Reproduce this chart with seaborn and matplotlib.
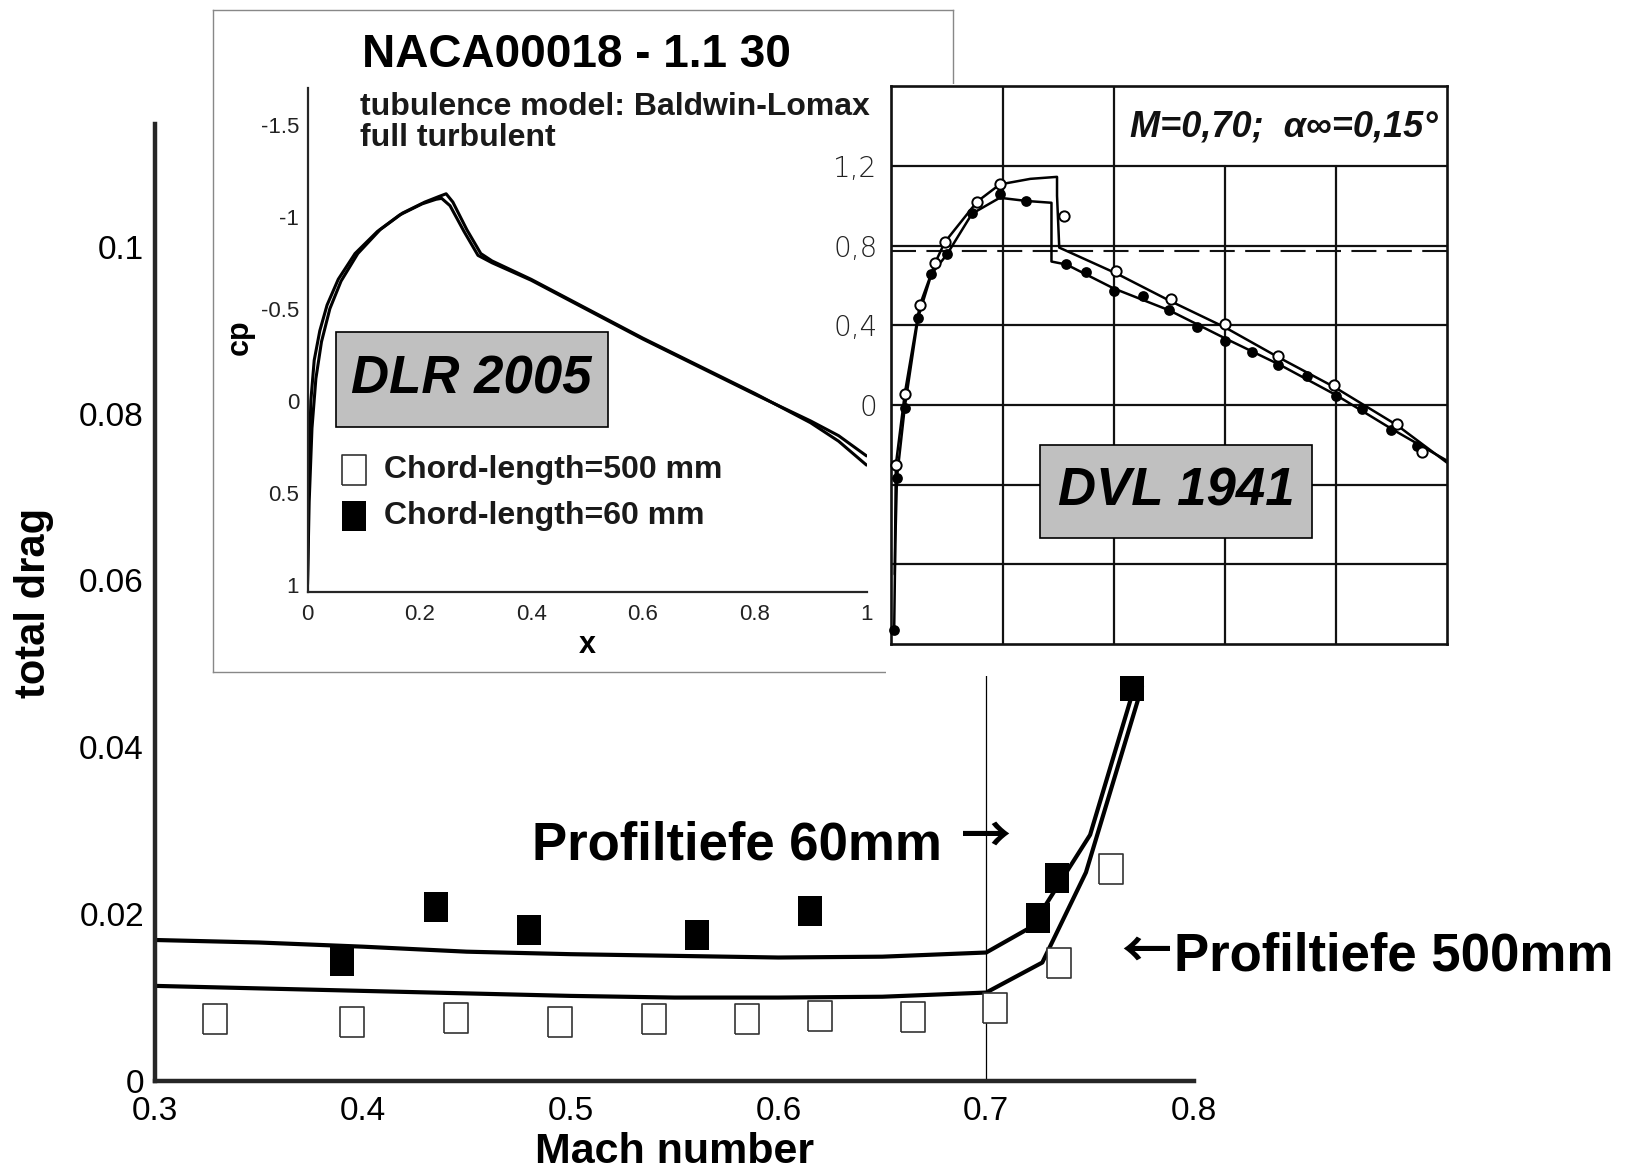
import matplotlib
matplotlib.use("Agg")
import matplotlib.pyplot as plt
import seaborn as sns
from matplotlib import font_manager
from matplotlib.patches import Rectangle
from matplotlib.ticker import MultipleLocator

# ---- main chart: total drag vs Mach number ----
mach_60_exp = [0.390, 0.435, 0.480, 0.561, 0.615, 0.725, 0.734, 0.770]
drag_60_exp = [0.0144, 0.0208, 0.0181, 0.0175, 0.0204, 0.0195, 0.0243, 0.0473]
mach_500_exp = [0.329, 0.395, 0.445, 0.495, 0.540, 0.585, 0.620, 0.665, 0.704, 0.735, 0.760]
drag_500_exp = [0.0074, 0.0071, 0.0076, 0.0071, 0.0074, 0.0074, 0.0078, 0.0077, 0.0088, 0.0142, 0.0254]

mach_60_cfd = [0.30, 0.35, 0.40, 0.45, 0.50, 0.55, 0.60, 0.65, 0.70, 0.722, 0.750, 0.772]
drag_60_cfd = [0.0169, 0.0166, 0.0161, 0.0155, 0.0152, 0.0150, 0.0148, 0.0149, 0.0154, 0.0185, 0.0295, 0.0478]
mach_500_cfd = [0.30, 0.35, 0.40, 0.45, 0.50, 0.55, 0.60, 0.65, 0.70, 0.727, 0.748, 0.775]
drag_500_cfd = [0.0114, 0.0111, 0.0108, 0.0105, 0.0102, 0.0100, 0.0100, 0.0101, 0.0106, 0.0142, 0.0250, 0.0473]

REF_MACH = 0.7
mach_ticks = [0.3, 0.4, 0.5, 0.6, 0.7, 0.8]
mach_labels = ["0.3", "0.4", "0.5", "0.6", "0.7", "0.8"]
drag_ticks = [0, 0.02, 0.04, 0.06, 0.08, 0.1]
drag_labels = ["0", "0.02", "0.04", "0.06", "0.08", "0.1"]

# ---- DLR 2005 inset: cp over x ----
x_500 = [0.0, 0.003, 0.008, 0.015, 0.025, 0.04, 0.06, 0.09, 0.13, 0.17, 0.21, 0.235, 0.248,
         0.26, 0.285, 0.31, 0.33, 0.40, 0.50, 0.60, 0.70, 0.80, 0.90, 0.95, 1.0]
cp_500 = [1.0, 0.55, 0.15, -0.12, -0.32, -0.50, -0.65, -0.80, -0.93, -1.02, -1.08, -1.11, -1.125,
          -1.08, -0.93, -0.80, -0.76, -0.66, -0.50, -0.34, -0.19, -0.04, 0.12, 0.22, 0.35]
x_60 = [0.0, 0.002, 0.006, 0.012, 0.022, 0.035, 0.055, 0.085, 0.125, 0.165, 0.205, 0.23, 0.24,
        0.255, 0.28, 0.305, 0.33, 0.40, 0.50, 0.60, 0.70, 0.80, 0.90, 0.95, 1.0]
cp_60 = [1.0, 0.45, 0.0, -0.22, -0.38, -0.52, -0.66, -0.80, -0.92, -1.01, -1.07, -1.095, -1.10,
         -1.06, -0.92, -0.79, -0.75, -0.655, -0.495, -0.335, -0.185, -0.035, 0.11, 0.19, 0.30]
naca_x_ticks = [0, 0.2, 0.4, 0.6, 0.8, 1]
naca_x_labels = ["0", "0.2", "0.4", "0.6", "0.8", "1"]
naca_cp_ticks = [-1.5, -1, -0.5, 0, 0.5, 1]
naca_cp_labels = ["-1.5", "-1", "-0.5", "0", "0.5", "1"]

# ---- DVL 1941 inset: -cp over x (scan) ----
dvl_open_x = [0.008, 0.024, 0.051, 0.079, 0.096, 0.154, 0.195, 0.310, 0.405, 0.503, 0.600, 0.696, 0.797, 0.909, 0.955]
dvl_open_v = [-0.30, 0.056, 0.50, 0.715, 0.817, 1.02, 1.107, 0.95, 0.672, 0.533, 0.407, 0.246, 0.10, -0.093, -0.235]
dvl_fill_x = [0.005, 0.010, 0.024, 0.048, 0.072, 0.100, 0.145, 0.195, 0.243, 0.315, 0.350, 0.400,
              0.453, 0.500, 0.549, 0.600, 0.648, 0.696, 0.748, 0.800, 0.847, 0.898, 0.946]
dvl_fill_v = [-1.13, -0.365, -0.013, 0.437, 0.657, 0.756, 0.965, 1.06, 1.024, 0.709, 0.667, 0.574,
              0.548, 0.478, 0.389, 0.32, 0.265, 0.20, 0.144, 0.043, -0.022, -0.124, -0.204]
dvl_up_x = [0.006, 0.008, 0.024, 0.051, 0.079, 0.096, 0.154, 0.195, 0.250, 0.298, 0.298, 0.302,
            0.405, 0.503, 0.600, 0.696, 0.797, 0.909, 1.000]
dvl_up_v = [-0.85, -0.30, 0.056, 0.50, 0.715, 0.817, 1.02, 1.107, 1.135, 1.145, 1.05, 0.79,
            0.66, 0.52, 0.39, 0.24, 0.09, -0.10, -0.29]
dvl_lo_x = [0.005, 0.007, 0.010, 0.024, 0.048, 0.072, 0.100, 0.145, 0.195, 0.243, 0.288, 0.288,
            0.315, 0.400, 0.500, 0.600, 0.700, 0.800, 0.900, 1.000]
dvl_lo_v = [-1.13, -0.70, -0.365, -0.013, 0.437, 0.657, 0.756, 0.96, 1.04, 1.024, 1.015, 0.72,
            0.705, 0.585, 0.475, 0.335, 0.20, 0.05, -0.12, -0.28]
dvl_ticks = [1.2, 0.8, 0.4, 0]
dvl_labels = ["1,2", "0,8", "0,4", "0"]
dvl_grid_y = [-0.8, -0.4, 0, 0.4, 0.8, 1.2]
dvl_grid_x_full = [0.2, 0.4]
dvl_grid_x_short = [0.6, 0.8]
dvl_sonic = 0.772

sns.set_style("white")
plt.rcParams["font.family"] = ["Liberation Sans", "DejaVu Sans"]
for key in ("text.color", "axes.labelcolor", "xtick.color", "ytick.color"):
    plt.rcParams[key] = "black"
names = {f.name for f in font_manager.fontManager.ttflist}
narrow = "Liberation Sans Narrow" if "Liberation Sans Narrow" in names else "Liberation Sans"
arrow_font = ["Noto Sans CJK JP", "DejaVu Sans"]

W, H = 1629, 1170
fig = plt.figure(figsize=(W / 100, H / 100), dpi=100, facecolor="white")


def box(x0, y0, x1, y1):
    # pixel box (top-left origin) -> figure fraction rect
    return [x0 / W, 1 - y1 / H, (x1 - x0) / W, (y1 - y0) / H]


# main axes
ax = fig.add_axes(box(155, 124, 1194, 1081))
square = [(-0.4, -0.5), (0.4, -0.5), (0.4, 0.5), (-0.4, 0.5), (-0.4, -0.5)]
sns.lineplot(x=mach_60_cfd, y=drag_60_cfd, sort=False, estimator=None, color="black", lw=3, ax=ax)
sns.lineplot(x=mach_500_cfd, y=drag_500_cfd, sort=False, estimator=None, color="black", lw=3, ax=ax)
ax.vlines(REF_MACH, 0, 0.1147, color="black", lw=0.9)
sns.scatterplot(x=mach_500_exp, y=drag_500_exp, marker=square, s=480, color="white",
                edgecolor="#333333", linewidth=1.2, ax=ax, zorder=4)
h_open = ax.collections[-1]
sns.scatterplot(x=mach_60_exp, y=drag_60_exp, marker=square, s=480, color="black",
                edgecolor="black", linewidth=0, ax=ax, zorder=4)
h_fill = ax.collections[-1]

ax.set_xlim(0.3, 0.8)
ax.set_ylim(0, 0.1147)
ax.set_xticks(mach_ticks, mach_labels)
ax.set_yticks(drag_ticks, drag_labels)
ax.xaxis.set_minor_locator(MultipleLocator(0.02))
ax.yaxis.set_minor_locator(MultipleLocator(0.005))
ax.tick_params(axis="both", which="both", direction="in", labelsize=24, top=False, right=False)
ax.tick_params(axis="y", which="major", length=19, width=3.5, pad=8)
ax.tick_params(axis="y", which="minor", length=10, width=1.6)
ax.tick_params(axis="x", which="major", length=16, width=3, pad=11)
ax.tick_params(axis="x", which="minor", length=9, width=1.3)
sns.despine(ax=ax)
for s in ("left", "bottom"):
    ax.spines[s].set_linewidth(3.2)
ax.set_xlabel("Mach number", fontsize=31, fontweight="bold")
ax.set_ylabel("total drag", fontsize=30, fontweight="bold")
ax.xaxis.set_label_coords(0.5005, -0.053)
ax.yaxis.set_label_coords(-0.097, 0.5)
ax.text(0.4814, 0.0266, "Profiltiefe 60mm", fontsize=38, fontweight="bold", ha="left", va="baseline")
ax.text(0.700, 0.0292, "\u2192", fontsize=36, fontweight="bold", family=arrow_font,
        ha="center", va="center")
ax.text(0.7769, 0.0154, "\u2190", fontsize=36, fontweight="bold", family=arrow_font,
        ha="center", va="center", clip_on=False)
ax.text(0.7904, 0.0132, "Profiltiefe 500mm", fontsize=38, fontweight="bold", ha="left",
        va="baseline", clip_on=False)

# DLR 2005 panel frame
frame = fig.add_axes(box(213, 10, 953, 672))
frame.set_xticks([])
frame.set_yticks([])
for s in frame.spines.values():
    s.set_color("#888888")
    s.set_linewidth(1.0)

ax_n = fig.add_axes(box(307.5, 88, 866.5, 592))
ax_n.patch.set_alpha(0)
sns.lineplot(x=x_500, y=cp_500, sort=False, estimator=None, color="black", lw=2.2, ax=ax_n)
sns.lineplot(x=x_60, y=cp_60, sort=False, estimator=None, color="black", lw=2.2, ax=ax_n)
ax_n.set_xlim(0, 1)
ax_n.set_ylim(1.04, -1.70)
ax_n.set_xticks(naca_x_ticks, naca_x_labels)
ax_n.set_yticks(naca_cp_ticks, naca_cp_labels)
ax_n.xaxis.set_minor_locator(MultipleLocator(0.05))
ax_n.yaxis.set_minor_locator(MultipleLocator(0.1))
ax_n.tick_params(axis="both", which="both", direction="in", labelsize=16, labelcolor="#222222",
                 top=False, right=False)
ax_n.tick_params(which="major", length=10, width=1.4)
ax_n.tick_params(which="minor", length=5, width=1.0)
ax_n.tick_params(axis="x", pad=9)
ax_n.tick_params(axis="y", pad=6)
sns.despine(ax=ax_n)
for s in ("left", "bottom"):
    ax_n.spines[s].set_linewidth(1.6)
ax_n.set_xlabel("x", fontsize=22, fontweight="bold")
ax_n.set_ylabel("cp", fontsize=22, fontweight="bold")
ax_n.xaxis.set_label_coords(0.5, -0.076)
ax_n.yaxis.set_label_coords(-0.095, 0.505)
ax_n.legend([h_open, h_fill], ["Chord-length=500 mm", "Chord-length=60 mm"],
            loc="upper left", bbox_to_anchor=(337.6 / W, 1 - 455 / H), bbox_transform=fig.transFigure,
            frameon=False, prop={"weight": "bold", "size": 23}, handlelength=1.0,
            handletextpad=0.45, labelspacing=0.5, borderpad=0, borderaxespad=0,
            labelcolor="#1a1a1a")

fig.text(576.6 / W, 1 - 55 / H, "NACA00018 - 1.1 30", fontsize=33, fontweight="bold",
         ha="center", va="center")
fig.text(360.5 / W, 1 - 107 / H, "tubulence model: Baldwin-Lomax", fontsize=23,
         fontweight="bold", ha="left", va="center", color="#1a1a1a")
fig.text(360.5 / W, 1 - 138 / H, "full turbulent", fontsize=23,
         fontweight="bold", ha="left", va="center", color="#1a1a1a")

# DVL 1941 panel
back = fig.add_axes(box(886, 84, 1462, 676))
back.set_xticks([])
back.set_yticks([])
for s in back.spines.values():
    s.set_visible(False)

ax_d = fig.add_axes(box(891.4, 86.2, 1447.2, 644.1))
ax_d.set_xlim(0, 1)
ax_d.set_ylim(-1.2, 1.6)
for gy in dvl_grid_y:
    ax_d.axhline(gy, color="#111111", lw=1.6)
for gx in dvl_grid_x_full:
    ax_d.axvline(gx, color="#111111", lw=1.6)
for gx in dvl_grid_x_short:
    ax_d.axvline(gx, ymax=(1.2 + 1.2) / 2.8, color="#111111", lw=1.6)
ax_d.axhline(dvl_sonic, color="#111111", lw=1.5, dashes=(12, 5))
sns.lineplot(x=dvl_up_x, y=dvl_up_v, sort=False, estimator=None, color="black", lw=1.8, ax=ax_d)
sns.lineplot(x=dvl_lo_x, y=dvl_lo_v, sort=False, estimator=None, color="black", lw=1.8, ax=ax_d)
sns.scatterplot(x=dvl_fill_x, y=dvl_fill_v, s=60, color="black", edgecolor="black", linewidth=0,
                ax=ax_d, zorder=4, clip_on=False)
sns.scatterplot(x=dvl_open_x, y=dvl_open_v, s=55, color="white", edgecolor="black", linewidth=1.4,
                ax=ax_d, zorder=5, clip_on=False)
ax_d.set_xticks([])
ax_d.set_yticks(dvl_ticks, dvl_labels)
ax_d.tick_params(axis="y", length=0, pad=10, labelsize=20, labelcolor="#222222")
for lab in ax_d.get_yticklabels():
    lab.set_fontfamily("DejaVu Sans")
    lab.set_fontweight(200)
for s in ax_d.spines.values():
    s.set_color("#111111")
    s.set_linewidth(1.9)

fig.text(1284 / W, 1 - 127 / H, "M=0,70;  \u03b1\u221e=0,15\u00b0", fontsize=26, fontstyle="italic",
         fontweight="bold", family=[narrow, "DejaVu Sans"], ha="center", va="center",
         color="#111111")

# grey label boxes
for (x0, y0, x1, y1), label in [((335.6, 332.4, 607.8, 427.0), "DLR 2005"),
                                 ((1040.0, 444.7, 1312.1, 538.2), "DVL 1941")]:
    fig.add_artist(Rectangle((x0 / W, 1 - y1 / H), (x1 - x0) / W, (y1 - y0) / H,
                             transform=fig.transFigure, facecolor="#c0c0c0",
                             edgecolor="black", lw=1.2, zorder=5))
    fig.text((x0 + x1) / 2 / W, 1 - (y0 + y1) / 2 / H, label, fontsize=38, fontweight="bold",
             fontstyle="italic", ha="center", va="center", zorder=6)

fig.savefig("out.png", dpi=100, facecolor="white")
